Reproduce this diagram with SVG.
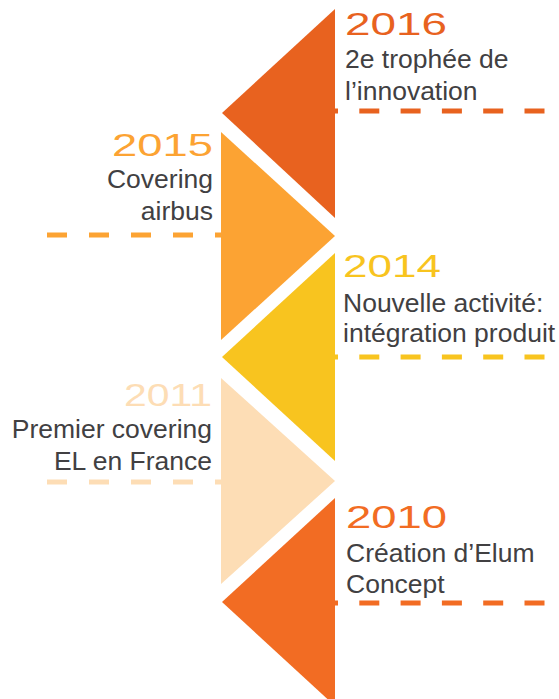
<svg xmlns="http://www.w3.org/2000/svg" width="559" height="699" viewBox="0 0 559 699">
<style>
.dash{stroke-width:5;fill:none}
.dr{stroke-dasharray:20 21.3}
.dl{stroke-dasharray:20 22}
.yr{font-family:"Liberation Sans",Arial,sans-serif;font-size:31px}
.tx{font-family:"Liberation Sans",Arial,sans-serif;font-size:26.5px;fill:#414042}
</style>
<rect width="559" height="699" fill="#FFFFFF"/>
<g id="connectors">
<line class="dash dr" x1="318" y1="111" x2="559" y2="111" stroke="#E8621F"/>
<line class="dash dl" x1="47" y1="235" x2="230" y2="235" stroke="#FCA333"/>
<line class="dash dr" x1="318" y1="357" x2="559" y2="357" stroke="#F8C41F"/>
<line class="dash dl" x1="47" y1="482" x2="230" y2="482" stroke="#FDDDB5"/>
<line class="dash dr" x1="318" y1="603" x2="559" y2="603" stroke="#F26C23"/>
</g>
<g id="n2016">
<polygon points="335,9 222,113 335,218" fill="#E8621F"/>
<text class="yr" x="345" y="35" fill="#E8621F" textLength="102" lengthAdjust="spacingAndGlyphs">2016</text>
<text class="tx" x="345" y="68">2e trophée de</text>
<text class="tx" x="345" y="100">l’innovation</text>
</g>
<g id="n2015">
<polygon points="221,132 335,236 221,340" fill="#FCA333"/>
<text class="yr" x="112" y="156" fill="#FCA333" textLength="101" lengthAdjust="spacingAndGlyphs">2015</text>
<text class="tx" x="213" y="188" text-anchor="end">Covering</text>
<text class="tx" x="213" y="220" text-anchor="end">airbus</text>
</g>
<g id="n2014">
<polygon points="335,253 222,357 335,461" fill="#F8C41F"/>
<text class="yr" x="343" y="277" fill="#F8C41F" textLength="98" lengthAdjust="spacingAndGlyphs">2014</text>
<text class="tx" x="343" y="312">Nouvelle activité:</text>
<text class="tx" x="343" y="342">intégration produit</text>
</g>
<g id="n2011">
<polygon points="221,378 335,481 221,584" fill="#FDDDB5"/>
<text class="yr" x="124" y="406" fill="#FDDDB5" textLength="88" lengthAdjust="spacingAndGlyphs">2011</text>
<text class="tx" x="212" y="438" text-anchor="end">Premier covering</text>
<text class="tx" x="212" y="470" text-anchor="end">EL en France</text>
</g>
<g id="n2010">
<polygon points="335,498 222,602 335,706" fill="#F26C23"/>
<text class="yr" x="346" y="528" fill="#F26C23" textLength="101" lengthAdjust="spacingAndGlyphs">2010</text>
<text class="tx" x="346" y="562">Création d’Elum</text>
<text class="tx" x="346" y="593">Concept</text>
</g>
</svg>
